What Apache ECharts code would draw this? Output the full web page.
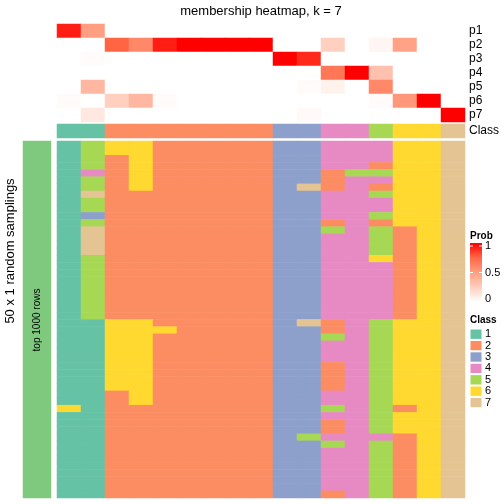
<!DOCTYPE html>
<html><head><meta charset="utf-8">
<script src="https://cdn.jsdelivr.net/npm/echarts@6/dist/echarts.min.js"></script>
<style>html,body{margin:0;padding:0;background:#fff}#c{width:504px;height:504px}</style>
</head><body><div id="c"></div>
<script>
const columns = ['c1','c2','c3','c4','c5','c6','c7','c8','c9','c10','c11','c12','c13','c14','c15','c16','c17'];
const probRows = ['p1','p2','p3','p4','p5','p6','p7'];
const p1 = [0.93,0.50,0,0,0,0,0,0,0,0,0,0,0,0,0,0,0];
const p2 = [0,0,0.76,0.60,0.93,1,1,1,1,0,0,0.25,0,0.05,0.48,0,0];
const p3 = [0,0.02,0,0,0,0,0,0,0,1,0.90,0,0,0,0,0,0];
const p4 = [0,0,0,0,0,0,0,0,0,0,0,0.68,1,0.32,0,0,0];
const p5 = [0,0.37,0,0,0,0,0,0,0,0,0.02,0.07,0,0.60,0,0,0];
const p6 = [0.02,0,0.25,0.37,0.02,0,0,0,0,0,0,0,0,0.02,0.53,1,0];
const p7 = [0,0.12,0,0,0,0,0,0,0,0,0.03,0,0,0,0,0,1];
const classRow = [1,1,2,2,2,2,2,2,2,3,3,4,4,5,6,6,7];
const classNames = ['1','2','3','4','5','6','7'];
const classColors = ['#66C2A5','#FC8D62','#8DA0CB','#E78AC3','#A6D854','#FFD92F','#E5C494'];
const samplings = [
[1,5,6,6,2,2,2,2,2,3,3,4,4,4,6,6,7],
[1,5,6,6,2,2,2,2,2,3,3,4,4,4,6,6,7],
[1,5,2,6,2,2,2,2,2,3,3,4,4,4,6,6,7],
[1,5,2,6,2,2,2,2,2,3,3,4,4,2,6,6,7],
[1,4,2,6,2,2,2,2,2,3,3,2,5,5,6,6,7],
[1,5,2,6,2,2,2,2,2,3,3,2,4,4,6,6,7],
[1,5,2,6,2,2,2,2,2,3,7,2,4,2,6,6,7],
[1,7,2,2,2,2,2,2,2,3,3,4,4,5,6,6,7],
[1,5,2,2,2,2,2,2,2,3,3,4,4,4,6,6,7],
[1,5,2,2,2,2,2,2,2,3,3,4,4,4,6,6,7],
[1,3,2,2,2,2,2,2,2,3,3,4,4,5,6,6,7],
[1,5,2,2,2,2,2,2,2,3,3,2,4,2,6,6,7],
[1,7,2,2,2,2,2,2,2,3,3,5,4,5,2,6,7],
[1,7,2,2,2,2,2,2,2,3,3,4,4,5,2,6,7],
[1,7,2,2,2,2,2,2,2,3,3,4,4,5,2,6,7],
[1,7,2,2,2,2,2,2,2,3,3,4,4,5,2,6,7],
[1,5,2,2,2,2,2,2,2,3,3,4,4,6,2,6,7],
[1,5,2,2,2,2,2,2,2,3,3,4,4,4,2,6,7],
[1,5,2,2,2,2,2,2,2,3,3,4,4,4,2,6,7],
[1,5,2,2,2,2,2,2,2,3,3,4,4,4,2,6,7],
[1,5,2,2,2,2,2,2,2,3,3,4,4,4,2,6,7],
[1,5,2,2,2,2,2,2,2,3,3,4,4,4,2,6,7],
[1,5,2,2,2,2,2,2,2,3,3,4,4,4,2,6,7],
[1,5,2,2,2,2,2,2,2,3,3,4,4,4,2,6,7],
[1,5,2,2,2,2,2,2,2,3,3,4,4,4,2,6,7],
[1,1,6,6,2,2,2,2,2,3,7,2,4,5,6,6,7],
[1,1,6,6,6,2,2,2,2,3,3,2,4,5,6,6,7],
[1,1,6,6,2,2,2,2,2,3,3,5,4,5,6,6,7],
[1,1,6,6,2,2,2,2,2,3,3,4,4,5,6,6,7],
[1,1,6,6,2,2,2,2,2,3,3,4,4,5,6,6,7],
[1,1,6,6,2,2,2,2,2,3,3,4,4,5,6,6,7],
[1,1,6,6,2,2,2,2,2,3,3,2,4,5,6,6,7],
[1,1,6,6,2,2,2,2,2,3,3,2,4,5,6,6,7],
[1,1,6,6,2,2,2,2,2,3,3,2,4,5,6,6,7],
[1,1,6,6,2,2,2,2,2,3,3,2,4,5,6,6,7],
[1,1,2,6,2,2,2,2,2,3,3,4,4,5,6,6,7],
[1,1,2,6,2,2,2,2,2,3,3,4,4,5,6,6,7],
[6,1,2,2,2,2,2,2,2,3,3,5,4,5,2,6,7],
[1,1,2,2,2,2,2,2,2,3,3,4,4,5,6,6,7],
[1,1,2,2,2,2,2,2,2,3,3,2,4,5,6,6,7],
[1,1,2,2,2,2,2,2,2,3,3,2,4,5,6,6,7],
[1,1,2,2,2,2,2,2,2,3,5,4,4,4,2,6,7],
[1,1,2,2,2,2,2,2,2,3,3,5,4,5,2,6,7],
[1,1,2,2,2,2,2,2,2,3,3,4,4,5,2,6,7],
[1,1,2,2,2,2,2,2,2,3,3,4,4,5,2,6,7],
[1,1,2,2,2,2,2,2,2,3,3,4,4,5,2,6,7],
[1,1,2,2,2,2,2,2,2,3,3,4,4,5,2,6,7],
[1,1,2,2,2,2,2,2,2,3,3,4,4,5,2,6,7],
[1,1,2,2,2,2,2,2,2,3,3,4,4,5,2,6,7],
[1,1,2,2,2,2,2,2,2,3,3,2,4,5,2,6,7]
];
const probTicks = [1, 0.5, 0];
const probColors = ['#FFFFFF','#FFCFBF','#FF9E81','#FF6846','#FF0000'];
const FONT = '"Liberation Sans", Arial, sans-serif';

const probData = [];
[p1,p2,p3,p4,p5,p6,p7].forEach((r, ri) => r.forEach((v, ci) => probData.push([ci, ri, v])));
const classData = classRow.map((v, ci) => [ci, 0, v]);
const sampRowNames = samplings.map((_, i) => 'r' + (i + 1));
const sampData = [];
samplings.forEach((r, ri) => r.forEach((v, ci) => sampData.push([ci, ri, v])));

const hidden = {show:false};
function xAx(gi, data){ return {type:'category', gridIndex:gi, data:data, show:false}; }

const chart = echarts.init(document.getElementById('c'), null, {renderer:'canvas'});
const pieces = classColors.map((c, i) => ({value: i + 1, color: c}));
pieces.push({value: 8, color: '#7FC97F'});

chart.setOption({
  animation: false,
  backgroundColor: '#fff',
  grid: [
    {left:57, top:24, width:408, height:98},
    {left:57, top:124, width:408, height:14},
    {left:57, top:141, width:408, height:357},
    {left:23, top:141, width:28, height:357}
  ],
  xAxis: [xAx(0, columns), xAx(1, columns), xAx(2, columns), xAx(3, ['s'])],
  yAxis: [
    {type:'category', gridIndex:0, data:probRows, inverse:true, position:'right',
     axisLine:hidden, axisTick:hidden, splitLine:hidden,
     axisLabel:{show:true, interval:0, margin:4, fontSize:12, color:'#000', fontFamily:FONT}},
    {type:'category', gridIndex:1, data:['Class'], position:'right',
     axisLine:hidden, axisTick:hidden, splitLine:hidden,
     axisLabel:{show:true, interval:0, margin:4, fontSize:12, color:'#000', fontFamily:FONT}},
    {type:'category', gridIndex:2, data:sampRowNames, inverse:true, show:false},
    {type:'category', gridIndex:3, data:['top'], show:false}
  ],
  visualMap: [
    {type:'continuous', show:false, seriesIndex:0, min:0, max:1, inRange:{color:probColors}},
    {type:'piecewise', show:false, seriesIndex:[1,2,3], pieces:pieces}
  ],
  series: [
    {type:'heatmap', xAxisIndex:0, yAxisIndex:0, data:probData, itemStyle:{borderWidth:0}, emphasis:{disabled:true}},
    {type:'heatmap', xAxisIndex:1, yAxisIndex:1, data:classData, itemStyle:{borderWidth:0}, emphasis:{disabled:true}},
    {type:'heatmap', xAxisIndex:2, yAxisIndex:2, data:sampData, itemStyle:{borderWidth:0}, emphasis:{disabled:true}},
    {type:'heatmap', xAxisIndex:3, yAxisIndex:3, data:[[0,0,8]], itemStyle:{borderWidth:0}, emphasis:{disabled:true}}
  ],
  graphic: (function(){
    const g = [];
    g.push({type:'text', z:100, x:261, y:11, style:{text:'membership heatmap, k = 7', font:'13px ' + FONT, fill:'#000', align:'center', verticalAlign:'middle'}});
    g.push({type:'text', z:100, x:10, y:251, rotation:Math.PI/2, style:{text:'50 x 1 random samplings', font:'13px ' + FONT, fill:'#000', align:'center', verticalAlign:'middle'}});
    g.push({type:'text', z:100, x:37, y:320, rotation:Math.PI/2, style:{text:'top 1000 rows', font:'10px ' + FONT, fill:'#000', align:'center', verticalAlign:'middle'}});
    // Prob legend
    g.push({type:'text', z:100, x:470, y:236, style:{text:'Prob', font:'bold 10px ' + FONT, fill:'#000', align:'left', verticalAlign:'middle'}});
    const barTop = 243, barH = 59;
    g.push({type:'rect', z:100, shape:{x:470, y:barTop, width:12, height:barH},
      style:{fill:new echarts.graphic.LinearGradient(0,0,0,1, probColors.slice().reverse().map((c,i)=>({offset:i/4, color:c})))}});
    probTicks.forEach(t => {
      const yy = barTop + 3 + (1 - t) * (barH - 6);
      if (t > 0) {
        g.push({type:'line', z:101, shape:{x1:470, y1:yy, x2:473, y2:yy}, style:{stroke:'#fff', lineWidth:1}});
        g.push({type:'line', z:101, shape:{x1:479, y1:yy, x2:482, y2:yy}, style:{stroke:'#fff', lineWidth:1}});
      }
      g.push({type:'text', z:100, x:485, y:yy, style:{text:String(t), font:'11px ' + FONT, fill:'#000', align:'left', verticalAlign:'middle'}});
    });
    // Class legend
    g.push({type:'text', z:100, x:470, y:320, style:{text:'Class', font:'bold 10px ' + FONT, fill:'#000', align:'left', verticalAlign:'middle'}});
    classNames.forEach((n, i) => {
      const yy = 329 + i * 11.4;
      g.push({type:'rect', z:100, shape:{x:470, y:yy, width:12, height:10.4}, style:{fill:classColors[i], stroke:'#fff', lineWidth:1}});
      g.push({type:'text', z:100, x:485, y:yy + 5.2, style:{text:n, font:'11px ' + FONT, fill:'#000', align:'left', verticalAlign:'middle'}});
    });
    return g;
  })()
});
</script></body></html>
